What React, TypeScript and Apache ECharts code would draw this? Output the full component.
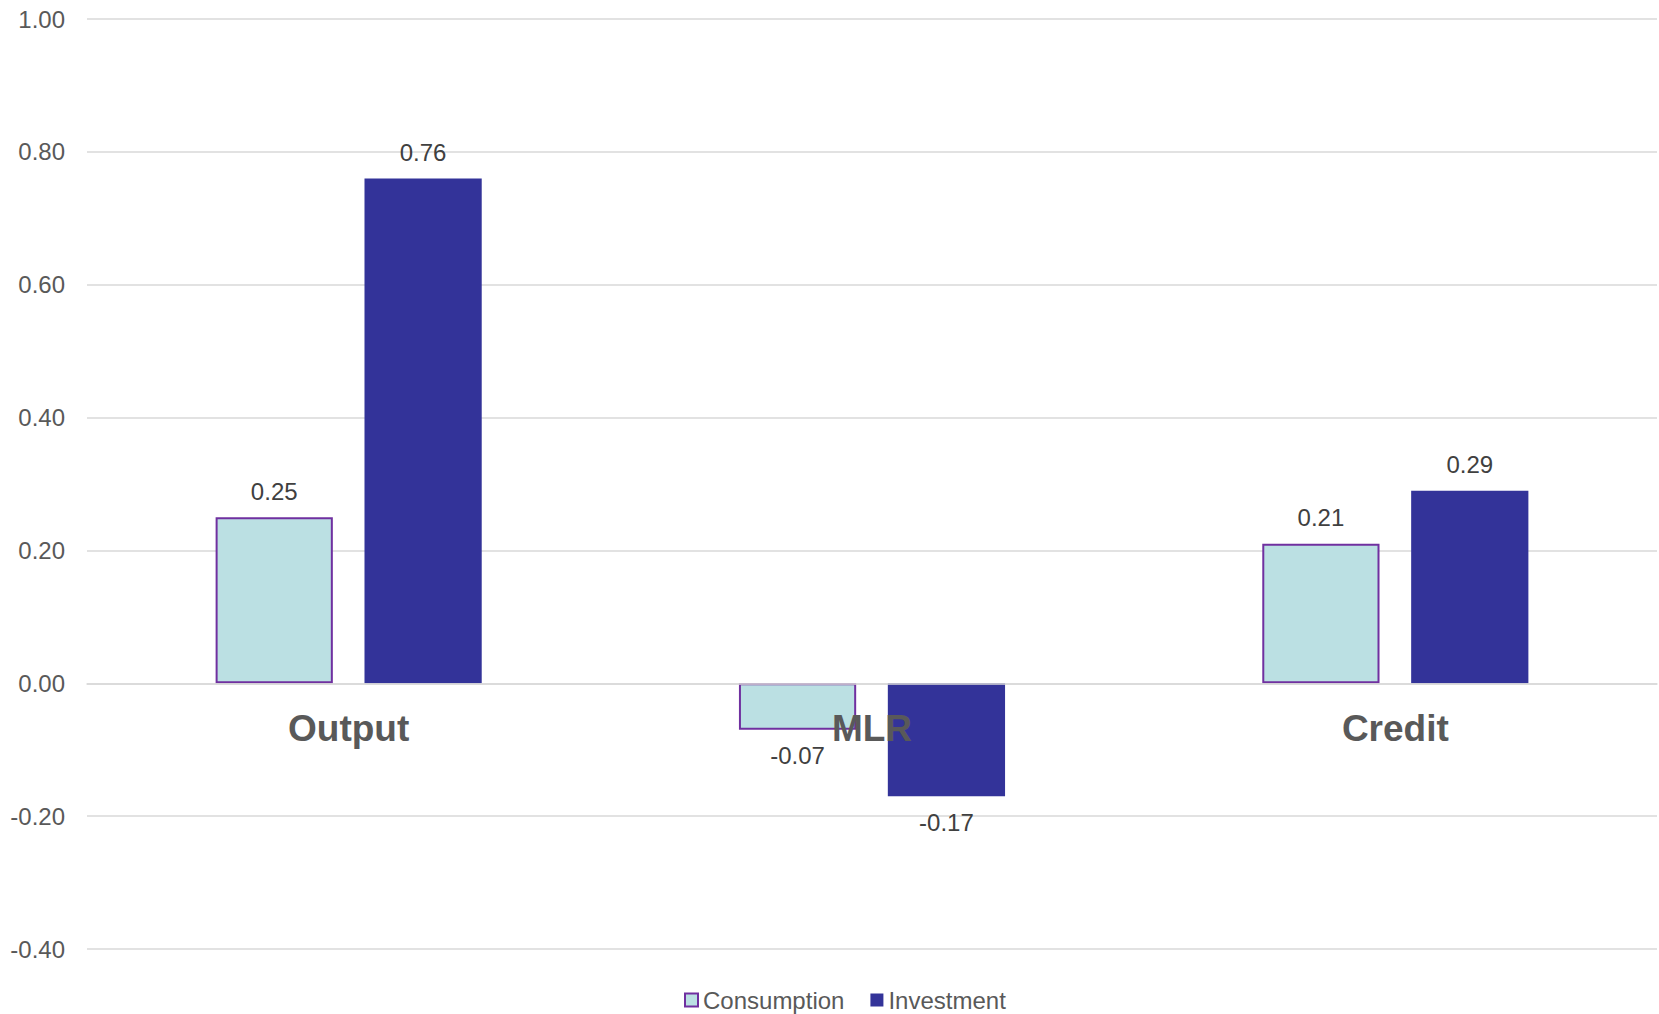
import React, { useEffect, useRef } from "react";
import * as echarts from "echarts";

const categories = ["Output", "MLR", "Credit"];
const consumption = [0.25, -0.07, 0.21];
const investment = [0.76, -0.17, 0.29];
const yTicks = { min: -0.4, max: 1.0, interval: 0.2 };

const FONT = "Liberation Sans, Arial, sans-serif";
const labelFont = { fontFamily: FONT, fontSize: 24, color: "#404040" };

const GRID = { left: 87, right: 2, top: 19, bottom: 65 };
const HEIGHT = 1014;

function toData(vals: number[]) {
  return vals.map((v) => ({
    value: v,
    label: { position: v < 0 ? "bottom" : "top" },
  }));
}

export default function App() {
  const ref = useRef<HTMLDivElement>(null);
  useEffect(() => {
    if (!ref.current) return;
    const chart = echarts.init(ref.current, null, { renderer: "svg" });
    const plotH = HEIGHT - GRID.top - GRID.bottom;
    const zeroOffset = ((0 - yTicks.min) / (yTicks.max - yTicks.min)) * plotH;
    chart.setOption({
      animation: false,
      backgroundColor: "#ffffff",
      grid: { ...GRID, containLabel: false },
      legend: {
        top: 983,
        left: 684,
        padding: [5, 0, 0, 0],
        icon: "rect",
        itemWidth: 13,
        itemHeight: 13,
        itemGap: 26,
        textStyle: { fontFamily: FONT, fontSize: 24, color: "#595959" },
        data: ["Consumption", "Investment"],
      },
      xAxis: {
        type: "category",
        data: categories,
        z: 10,
        offset: -zeroOffset,
        axisLine: { show: true, onZero: false, lineStyle: { color: "#D9D9D9", width: 1.5 } },
        axisTick: { show: false },
        axisLabel: {
          margin: 27,
          fontFamily: FONT,
          fontSize: 37,
          fontWeight: "bold",
          color: "#595959",
        },
      },
      yAxis: {
        type: "value",
        min: yTicks.min,
        max: yTicks.max,
        interval: yTicks.interval,
        axisLine: { show: false },
        axisTick: { show: false },
        splitLine: { lineStyle: { color: "#D9D9D9", width: 1.5 } },
        axisLabel: {
          margin: 22,
          fontFamily: FONT,
          fontSize: 24,
          color: "#595959",
          formatter: (v: number) => v.toFixed(2),
        },
      },
      series: [
        {
          name: "Consumption",
          type: "bar",
          data: toData(consumption),
          barWidth: "22.4%",
          barGap: "27%",
          itemStyle: { color: "#BBE0E3", borderColor: "#7030A0", borderWidth: 2 },
          label: { show: true, distance: 14, ...labelFont, formatter: (p: any) => Number(p.value).toFixed(2) },
        },
        {
          name: "Investment",
          type: "bar",
          data: toData(investment),
          barWidth: "22.4%",
          barGap: "27%",
          itemStyle: { color: "#333399" },
          label: { show: true, distance: 14, ...labelFont, formatter: (p: any) => Number(p.value).toFixed(2) },
        },
      ],
    });
    return () => chart.dispose();
  }, []);
  return (
    <div
      ref={ref}
      style={{ position: "absolute", left: 0, top: 0, width: 1659, height: 1014 }}
    />
  );
}
